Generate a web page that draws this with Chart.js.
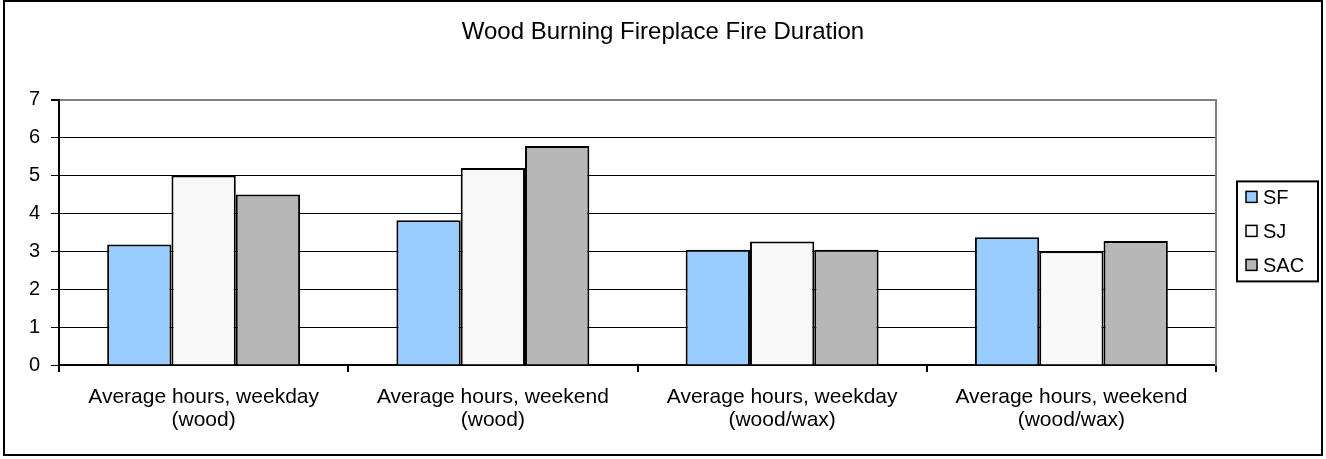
<!DOCTYPE html>
<html lang="en"><head><meta charset="UTF-8"><title>Wood Burning Fireplace Fire Duration</title>
<style>
  html,body{margin:0;padding:0;background:#fff;}
  .frame{position:absolute;left:3px;top:0;width:1320px;height:456px;border:2px solid #000;box-sizing:border-box;}
  .wrap{position:absolute;left:0;top:0;width:1326px;height:459px;}
</style>
<script src="https://cdn.jsdelivr.net/npm/chart.js"></script>
</head><body>
  <div class="frame"></div>
  <div class="wrap"><canvas id="c"></canvas></div>
  <script>
    const categories = [
      ['Average hours, weekday', '(wood)'],
      ['Average hours, weekend', '(wood)'],
      ['Average hours, weekday', '(wood/wax)'],
      ['Average hours, weekend', '(wood/wax)']
    ];
    const seriesNames = ['SF', 'SJ', 'SAC'];
    const sfValues  = [3.18, 3.82, 3.04, 3.37];
    const sjValues  = [5.0, 5.2, 3.26, 3.0];
    const sacValues = [4.5, 5.78, 3.04, 3.27];
    const yTicks = [0, 1, 2, 3, 4, 5, 6, 7];

    const FONT = '"Liberation Sans", Arial, sans-serif';
    const colors = ['#99CCFF', '#F8F8F8', '#B7B7B7'];

    // boxed legend to the right of the plot
    const boxLegend = {
      id: 'boxLegend',
      afterDraw(chart) {
        const { ctx, chartArea: a } = chart;
        ctx.save();
        const lx = a.right + 21, lw = 81, lh = 100;
        const cy = (a.top + a.bottom) / 2 - 1;
        const ly = cy - lh / 2;
        ctx.strokeStyle = '#000';
        ctx.lineWidth = 2;
        ctx.strokeRect(lx, ly, lw, lh);
        ctx.font = '20px ' + FONT;
        ctx.textBaseline = 'middle';
        chart.data.datasets.forEach((ds, i) => {
          const y = cy + (i - 1) * 34;
          ctx.fillStyle = ds.backgroundColor;
          ctx.fillRect(lx + 9, y - 6, 11, 11);
          ctx.lineWidth = 1.5;
          ctx.strokeRect(lx + 9, y - 6, 11, 11);
          ctx.fillStyle = '#000';
          ctx.fillText(ds.label, lx + 26, y + 1);
        });
        ctx.restore();
      }
    };

    new Chart(document.getElementById('c').getContext('2d'), {
      type: 'bar',
      data: {
        labels: categories,
        datasets: [
          { label: seriesNames[0], data: sfValues,  backgroundColor: colors[0] },
          { label: seriesNames[1], data: sjValues,  backgroundColor: colors[1] },
          { label: seriesNames[2], data: sacValues, backgroundColor: colors[2] }
        ]
      },
      options: {
        responsive: true,
        maintainAspectRatio: false,
        animation: false,
        layout: { padding: 0 },
        datasets: {
          bar: {
            borderColor: '#000',
            borderWidth: 2,
            borderSkipped: 'bottom',
            categoryPercentage: 0.667,
            barPercentage: 1
          }
        },
        plugins: {
          legend: { display: false },
          tooltip: { enabled: false },
          title: {
            display: true,
            text: 'Wood Burning Fireplace Fire Duration',
            color: '#000',
            font: { family: FONT, size: 24, weight: 'normal', lineHeight: 1.2 },
            padding: { top: 18, bottom: 53 }
          }
        },
        scales: {
          x: {
            grid: {
              display: true,
              drawOnChartArea: false,
              offset: true,
              color: '#000',
              lineWidth: 2,
              tickLength: 7
            },
            border: { display: true, color: '#000', width: 2 },
            ticks: {
              color: '#000',
              padding: 14,
              maxRotation: 0,
              font: { family: FONT, size: 21, lineHeight: 1.1 }
            },
            afterFit(scale) { scale.height = 94; }
          },
          y: {
            min: 0,
            max: yTicks[yTicks.length - 1],
            afterBuildTicks(scale) { scale.ticks = yTicks.map(v => ({ value: v })); },
            grid: {
              color: ctx => ctx.tick && ctx.tick.value === 7 ? '#808080' : '#000',
              lineWidth: ctx => ctx.tick && ctx.tick.value === 7 ? 2 : 1,
              tickColor: '#000',
              tickLength: 8
            },
            border: { display: true, color: '#000', width: 2 },
            ticks: {
              color: '#000',
              padding: 11,
              font: { family: FONT, size: 20 }
            },
            afterFit(scale) { scale.width = 59; }
          },
          // right-hand side: gray plot border, leaves room for the legend
          yRight: {
            position: 'right',
            min: 0,
            max: yTicks[yTicks.length - 1],
            grid: { display: false, drawOnChartArea: false },
            border: { display: true, color: '#808080', width: 2 },
            ticks: { display: false },
            afterFit(scale) { scale.width = 110; }
          }
        }
      },
      plugins: [boxLegend]
    });
  </script>
</body></html>
